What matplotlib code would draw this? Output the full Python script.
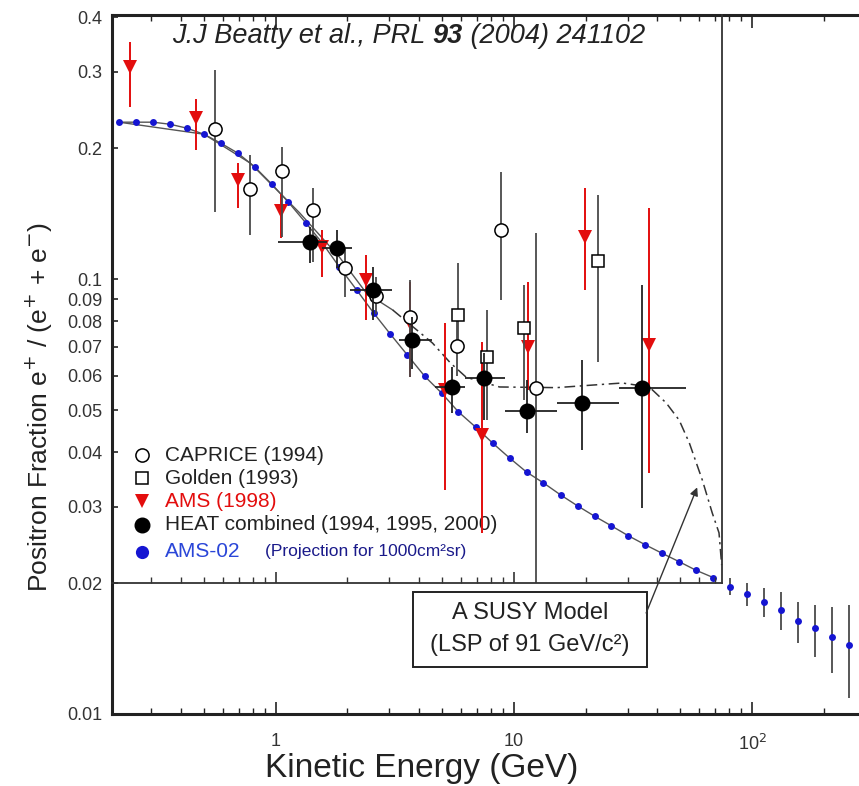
import numpy as np
import matplotlib
matplotlib.use("Agg")
import matplotlib.pyplot as plt
from matplotlib.ticker import FixedLocator, LogLocator, NullFormatter, NullLocator
from matplotlib.patches import Rectangle

plt.rcParams['font.family'] = ['Liberation Sans', 'DejaVu Sans']

### data (energy in GeV, positron fraction)
# CAPRICE (1994)
cap_e  = [0.555, 0.778, 1.06, 1.43, 1.95, 2.63, 3.65, 5.74, 8.86, 12.4]
cap_f  = [0.222, 0.161, 0.177, 0.144, 0.106, 0.0915, 0.0818, 0.0701, 0.1296, 0.0561]
cap_lo = [0.1426, 0.1262, 0.125, 0.1094, 0.091, 0.083, 0.0596, 0.060, 0.0895, 0.020]
cap_hi = [0.3023, 0.1928, 0.2012, 0.1619, 0.118, 0.101, 0.0995, 0.083, 0.176, 0.128]

# Golden (1993)
gol_e  = [5.80, 7.74, 11.07, 22.6]
gol_f  = [0.0827, 0.0662, 0.0772, 0.110]
gol_lo = [0.0705, 0.0474, 0.0527, 0.0645]
gol_hi = [0.1088, 0.0849, 0.0969, 0.156]

# AMS (1998)
ams_e  = [0.244, 0.462, 0.693, 1.05, 1.57, 2.39, 3.65, 5.11, 7.31, 11.5, 19.9, 37.0]
ams_f  = [0.307, 0.2345, 0.169, 0.1433, 0.1185, 0.0995, 0.0792, 0.0556, 0.0438, 0.0698, 0.125, 0.0705]
ams_lo = [0.249, 0.198, 0.1456, 0.1243, 0.1011, 0.0805, 0.0596, 0.0327, 0.0261, 0.0556, 0.0943, 0.0358]
ams_hi = [0.351, 0.259, 0.1848, 0.1568, 0.1296, 0.1136, 0.0985, 0.0793, 0.0716, 0.0985, 0.162, 0.1456]

# HEAT combined (1994, 1995, 2000)
heat_e   = [1.39, 1.80, 2.55, 3.75, 5.47, 7.52, 11.3, 19.4, 34.6]
heat_f   = [0.1217, 0.1179, 0.0943, 0.0724, 0.0565, 0.0592, 0.0497, 0.0519, 0.0561]
heat_elo = [1.02, 1.56, 2.04, 3.30, 4.65, 6.20, 9.13, 15.1, 27.7]
heat_ehi = [1.64, 2.08, 3.09, 4.55, 6.20, 9.13, 15.2, 27.7, 52.9]
heat_lo  = [0.1088, 0.106, 0.0805, 0.062, 0.0492, 0.0474, 0.0443, 0.0404, 0.0297]
heat_hi  = [0.1317, 0.1296, 0.1066, 0.082, 0.0628, 0.0676, 0.0586, 0.0651, 0.0969]

# AMS-02 projection (points follow the background curve)
a02_e = [0.220, 0.259, 0.305, 0.360, 0.424, 0.499, 0.588, 0.693, 0.817, 0.962,
         1.13, 1.34, 1.57, 1.85, 2.19, 2.58, 3.03, 3.57, 4.22, 4.97,
         5.85, 6.90, 8.13, 9.58, 11.3, 13.3, 15.7, 18.5, 21.8, 25.6,
         30.2, 35.6, 42.0, 49.4, 58.2, 68.6, 80.9, 95.3, 112, 132,
         156, 184, 216, 255]
a02_f = [0.2296, 0.2296, 0.2296, 0.2271, 0.2224, 0.2154, 0.2054, 0.1949, 0.1810, 0.1654,
         0.1503, 0.1345, 0.1210, 0.1066, 0.0943, 0.0835, 0.0747, 0.0669, 0.0598, 0.0547,
         0.0495, 0.0457, 0.0420, 0.0388, 0.0360, 0.0340, 0.0319, 0.0301, 0.0285, 0.0271,
         0.0257, 0.0245, 0.0234, 0.0224, 0.0214, 0.0206, 0.0196, 0.0189, 0.0181, 0.0173,
         0.0164, 0.0158, 0.0150, 0.0144]
# error bars only visible for the points above ~75 GeV (last 8)
a02_lo = [0.0188, 0.0177, 0.0167, 0.0156, 0.0146, 0.0135, 0.0124, 0.0109]
a02_hi = [0.0206, 0.0200, 0.0195, 0.0191, 0.0181, 0.0178, 0.0176, 0.0178]

# SUSY model curve (LSP of 91 GeV)
susy_e = [0.22, 0.50, 0.78, 1.26, 1.85, 2.4, 3.1, 4.55, 5.42, 6.3, 8.7, 15.1, 20.7,
          28.5, 37, 43.6, 49.4, 54.5, 61.8, 68, 72.6, 74.5]
susy_f = [0.2296, 0.2154, 0.185, 0.142, 0.1124, 0.0929, 0.0849, 0.0713, 0.0641, 0.0595,
          0.0565, 0.0563, 0.057, 0.0577, 0.0565, 0.0519, 0.0474, 0.042, 0.0345, 0.029,
          0.0261, 0.022]

ytick_vals = [0.01, 0.02, 0.03, 0.04, 0.05, 0.06, 0.07, 0.08, 0.09, 0.1, 0.2, 0.3, 0.4]
ytick_labels = ['0.01', '0.02', '0.03', '0.04', '0.05', '0.06', '0.07', '0.08', '0.09',
                '0.1', '0.2', '0.3', '0.4']
xtick_vals = [1, 10, 100]
xtick_labels = ['1', '10', '10$^{2}$']

### limits / layout
XMIN, XMAX = 0.2053, 281
YMIN, YMAX = 0.01, 0.405
X_CUT, Y_CUT = 74.5, 0.02
RED = '#e30d0d'
BLUE = '#1515d2'
BAR = '#4a4a4a'

fig = plt.figure(figsize=(8.59, 7.86), dpi=100)
rect = [112/859, 72/786, 747/859, 699/786]
ax = fig.add_axes(rect)
ax.set_xscale('log')
ax.set_yscale('log')
ax.set_xlim(XMIN, XMAX)
ax.set_ylim(YMIN, YMAX)

def yerr(f, lo, hi):
    f, lo, hi = np.array(f), np.array(lo), np.array(hi)
    return [f - lo, hi - f]

# background curve through the AMS-02 points, and the SUSY curve
n_in = sum(1 for e in a02_e if e < X_CUT)
ax.plot(a02_e[:n_in], a02_f[:n_in], color='#555555', lw=1.0, zorder=2)
ax.plot(susy_e[:7], susy_f[:7], color='#555555', lw=1.0, zorder=2)
ax.plot(susy_e[6:], susy_f[6:], color='#333333', lw=1.1,
        linestyle=(0, (7, 3, 1.5, 3)), zorder=2)

# AMS-02 projection
ax.errorbar(a02_e[n_in:], a02_f[n_in:], yerr=yerr(a02_f[n_in:], a02_lo, a02_hi),
            fmt='none', ecolor=BAR, elinewidth=1.3, zorder=3)
ax.plot(a02_e, a02_f, 'o', color=BLUE, ms=5, mew=0, zorder=4)

# measurements
ax.errorbar(ams_e, ams_f, yerr=yerr(ams_f, ams_lo, ams_hi), fmt='v', color=RED,
            ms=10, mew=0, elinewidth=1.4, zorder=5)
ax.errorbar(gol_e, gol_f, yerr=yerr(gol_f, gol_lo, gol_hi), fmt='s', mfc='white',
            mec='black', ms=9, mew=1.1, ecolor=BAR, elinewidth=1.3, zorder=6)
ax.errorbar(cap_e, cap_f, yerr=yerr(cap_f, cap_lo, cap_hi), fmt='o', mfc='white',
            mec='black', ms=9.5, mew=1.1, ecolor=BAR, elinewidth=1.3, zorder=6)
ax.errorbar(heat_e, heat_f, yerr=yerr(heat_f, heat_lo, heat_hi),
            xerr=yerr(heat_e, heat_elo, heat_ehi), fmt='o', color='black',
            ms=10.5, ecolor='#222222', elinewidth=1.3, zorder=7)

# axes styling
for s in ['left', 'bottom', 'top']:
    ax.spines[s].set_linewidth(2.2)
    ax.spines[s].set_color('#222222')
ax.spines['right'].set_visible(False)

ax.yaxis.set_major_locator(FixedLocator(ytick_vals))
ax.yaxis.set_major_formatter(matplotlib.ticker.FixedFormatter(ytick_labels))
ax.yaxis.set_minor_locator(NullLocator())
ax.xaxis.set_major_locator(FixedLocator(xtick_vals))
ax.xaxis.set_major_formatter(matplotlib.ticker.FixedFormatter(xtick_labels))
ax.xaxis.set_minor_locator(LogLocator(base=10, subs=np.arange(2, 10)))
ax.xaxis.set_minor_formatter(NullFormatter())
ax.tick_params(axis='x', which='both', direction='in', top=True, bottom=True,
               labelsize=13, labelcolor='#333333', pad=14, color='#222222')
ax.tick_params(axis='x', which='major', length=9, width=1.2)
ax.tick_params(axis='x', which='minor', length=4.5, width=1.0)
ax.tick_params(axis='y', which='major', direction='in', length=4.5, width=1.2,
               labelsize=13, labelcolor='#333333', pad=7, color='#222222')

ax.set_xlabel('Kinetic Energy (GeV)', fontsize=24, color='#222222', va='center')
ax.xaxis.set_label_coords(0.414, -0.0773)
ax.set_ylabel('Positron Fraction e$^{+}$ / (e$^{+}$ + e$^{-}$)', fontsize=19,
              color='#222222', va='center')
ax.yaxis.set_label_coords(-0.097, 0.44)

# inner frame: 0.02 line with ticks and the vertical line at the model cut-off
lx0, lx1 = np.log10(XMIN), np.log10(XMAX)
ly0, ly1 = np.log10(YMIN), np.log10(YMAX)
fx = (np.log10(X_CUT) - lx0) / (lx1 - lx0)
fy = (ly1 - np.log10(Y_CUT)) / (ly1 - ly0)
axi = fig.add_axes([rect[0], rect[1] + rect[3]*(1 - fy), rect[2]*fx, rect[3]*fy])
axi.set_xscale('log')
axi.set_yscale('log')
axi.set_xlim(XMIN, X_CUT)
axi.set_ylim(Y_CUT, YMAX)
axi.patch.set_visible(False)
for s in ['left', 'top']:
    axi.spines[s].set_visible(False)
for s in ['bottom', 'right']:
    axi.spines[s].set_linewidth(1.3)
    axi.spines[s].set_color('#333333')
axi.xaxis.set_major_locator(FixedLocator(xtick_vals))
axi.xaxis.set_minor_locator(LogLocator(base=10, subs=np.arange(2, 10)))
axi.xaxis.set_major_formatter(NullFormatter())
axi.xaxis.set_minor_formatter(NullFormatter())
axi.yaxis.set_major_locator(NullLocator())
axi.yaxis.set_minor_locator(NullLocator())
axi.tick_params(axis='x', which='both', direction='in', color='#333333')
axi.tick_params(axis='x', which='major', length=8, width=1.2)
axi.tick_params(axis='x', which='minor', length=4, width=1.0)

# reference text
t1 = ax.text(0.0803, 0.951, 'J.J Beatty et al., PRL ', transform=ax.transAxes,
             fontsize=19.5, style='italic', color='#222222', va='bottom')
t2 = ax.annotate('93', xy=(1, 0), xycoords=t1, fontsize=19.5, style='italic',
                 weight='bold', color='#222222', va='bottom')
ax.annotate(' (2004) 241102', xy=(1, 0), xycoords=t2, fontsize=19.5, style='italic',
            color='#222222', va='bottom')

# legend (drawn by hand)
leg_mx, leg_tx = 0.040, 0.071
rows = [0.3705, 0.3376, 0.3047, 0.2704, 0.2318]
ax.plot([leg_mx], [rows[0]], 'o', mfc='white', mec='black', ms=9.5, mew=1.1,
        transform=ax.transAxes)
ax.plot([leg_mx], [rows[1]], 's', mfc='white', mec='black', ms=9, mew=1.1,
        transform=ax.transAxes)
ax.plot([leg_mx], [rows[2]], 'v', color=RED, ms=10, mew=0, transform=ax.transAxes)
ax.plot([leg_mx], [rows[3]], 'o', color='black', ms=10.5, transform=ax.transAxes)
ax.plot([leg_mx], [rows[4]], 'o', color=BLUE, ms=9.5, mew=0, transform=ax.transAxes)
leg_txt = ['CAPRICE (1994)', 'Golden (1993)', 'AMS (1998)',
           'HEAT combined (1994, 1995, 2000)', 'AMS-02']
leg_col = ['#222222', '#222222', RED, '#222222', '#2a46d8']
for r, t, c in zip(rows, leg_txt, leg_col):
    ax.text(leg_tx, r, t, transform=ax.transAxes, fontsize=15, color=c, va='center')
ax.text(0.205, rows[4], '(Projection for 1000cm²sr)', transform=ax.transAxes,
        fontsize=12.5, color='#1a1a8a', va='center')

# SUSY model box and arrow
ax.add_patch(Rectangle((0.4029, 0.0672), 0.3133, 0.1073, transform=ax.transAxes,
                       fill=True, facecolor='white', edgecolor='#222222', lw=1.4,
                       zorder=8))
ax.text(0.5596, 0.1445, 'A SUSY Model', transform=ax.transAxes, fontsize=17,
        ha='center', va='center', color='#222222', zorder=9)
ax.text(0.5596, 0.0987, '(LSP of 91 GeV/c²)', transform=ax.transAxes, fontsize=17,
        ha='center', va='center', color='#222222', zorder=9)
ax.annotate('', xy=(58.8, 0.0332), xytext=(35.9, 0.01707),
            arrowprops=dict(arrowstyle='-|>', color='#333333', lw=1.0,
                            mutation_scale=12, shrinkA=0, shrinkB=0), zorder=9)

fig.savefig('out.png', dpi=100)
